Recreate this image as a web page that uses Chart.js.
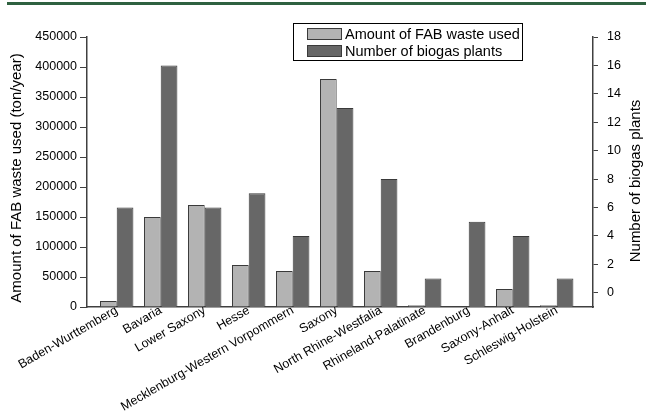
<!DOCTYPE html>
<html>
<head>
<meta charset="utf-8">
<script src="https://cdn.jsdelivr.net/npm/chart.js@4.4.1/dist/chart.umd.min.js"></script>
<style>
  html, body { margin: 0; padding: 0; background: #ffffff; }
  #wrap { position: relative; width: 646px; height: 415px; }
  #rule { position: absolute; left: 7px; right: 0; top: 2px; height: 3px; background: #2f6140; }
  canvas { position: absolute; left: 0; top: 0; }
</style>
</head>
<body>
<div id="wrap">
  <canvas id="chart" width="646" height="415"></canvas>
  <div id="rule"></div>
</div>
<script>
// German federal states
const states = [
  'Baden-Wurttemberg', 'Bavaria', 'Lower Saxony', 'Hesse',
  'Mecklenburg-Western Vorpommern', 'Saxony', 'North Rhine-Westfalia',
  'Rhineland-Palatinate', 'Brandenburg', 'Saxony-Anhalt', 'Schleswig-Holstein'
];
// FAB waste used, ton/year
const fabWaste = [10000, 150000, 170000, 70000, 60000, 380000, 60000, 3000, 500, 30000, 3000];
// Number of biogas plants
const biogasPlants = [6, 16, 6, 7, 4, 13, 8, 1, 5, 4, 1];
// Axis tick values
const wasteTicks = [0, 50000, 100000, 150000, 200000, 250000, 300000, 350000, 400000, 450000];
const plantTicks = [0, 2, 4, 6, 8, 10, 12, 14, 16, 18];

const FONT = '"Liberation Sans", Arial, sans-serif';
const AXIS = '#404040';

// Legend box and rotated axis titles
const decorations = {
  id: 'decorations',
  afterDraw(chart) {
    const ctx = chart.ctx;
    ctx.save();
    ctx.fillStyle = '#000';
    ctx.font = '15px ' + FONT;
    ctx.textAlign = 'center';
    ctx.textBaseline = 'middle';
    ctx.translate(17, 178);
    ctx.rotate(-Math.PI / 2);
    ctx.fillText('Amount of FAB waste used (ton/year)', 0, 0);
    ctx.restore();

    ctx.save();
    ctx.fillStyle = '#000';
    ctx.font = '15px ' + FONT;
    ctx.textAlign = 'center';
    ctx.textBaseline = 'middle';
    ctx.translate(636, 181);
    ctx.rotate(-Math.PI / 2);
    ctx.fillText('Number of biogas plants', 0, 0);
    ctx.restore();

    // legend
    ctx.save();
    ctx.fillStyle = '#fff';
    ctx.fillRect(293.5, 23.5, 229, 37);
    ctx.strokeStyle = '#000';
    ctx.lineWidth = 1;
    ctx.strokeRect(293.5, 23.5, 229, 37);
    chart.data.datasets.forEach((ds, i) => {
      const y = 28 + i * 17;
      ctx.fillStyle = ds.backgroundColor;
      ctx.fillRect(307, y, 35, 12);
      ctx.strokeStyle = '#3a3a3a';
      ctx.strokeRect(307.5, y + 0.5, 34, 11);
      ctx.fillStyle = '#000';
      ctx.font = '14.5px ' + FONT;
      ctx.textAlign = 'left';
      ctx.textBaseline = 'middle';
      ctx.fillText(ds.label, 345, y + 6.5);
    });
    ctx.restore();
  }
};

new Chart(document.getElementById('chart'), {
  type: 'bar',
  data: {
    datasets: [
      {
        label: 'Amount of FAB waste used',
        data: fabWaste.map((v, i) => ({ x: i, y: v })),
        yAxisID: 'y',
        backgroundColor: '#b3b3b3',
        borderColor: '#3a3a3a',
        borderWidth: 1,
        borderSkipped: 'bottom'
      },
      {
        label: 'Number of biogas plants',
        data: biogasPlants.map((v, i) => ({ x: i, y: v })),
        yAxisID: 'y2',
        base: -1,
        backgroundColor: '#676767',
        borderColor: '#3a3a3a',
        borderWidth: 1,
        borderSkipped: 'bottom'
      }
    ]
  },
  options: {
    responsive: false,
    animation: false,
    categoryPercentage: 0.76,
    barPercentage: 1,
    layout: { padding: { top: 37, left: 0, right: 0, bottom: 0 } },
    plugins: { legend: { display: false }, tooltip: { enabled: false } },
    scales: {
      x: {
        type: 'linear',
        position: 'bottom',
        min: -0.675,
        max: 10.825,
        offset: false,
        afterBuildTicks(scale) { scale.ticks = states.map((_, i) => ({ value: i })); },
        afterFit(scale) { scale.height = 108; },
        grid: { display: false, drawTicks: false },
        border: { display: true, color: AXIS, width: 1.5 },
        ticks: {
          autoSkip: false,
          minRotation: 30,
          maxRotation: 30,
          padding: -4,
          color: '#000',
          font: { family: FONT, size: 12.5 },
          callback: (v) => states[v]
        }
      },
      y: {
        position: 'left',
        min: 0,
        max: 450000,
        afterBuildTicks(scale) { scale.ticks = wasteTicks.map(v => ({ value: v })); },
        afterFit(scale) { scale.width = 87; },
        grid: { drawOnChartArea: false, drawTicks: true, tickLength: 7, color: AXIS, lineWidth: 1 },
        border: { display: true, color: AXIS, width: 1.5 },
        ticks: { padding: 3, color: '#000', font: { family: FONT, size: 12.5 }, callback: (v) => String(v) }
      },
      y2: {
        position: 'right',
        min: -1,
        max: 18,
        afterBuildTicks(scale) { scale.ticks = plantTicks.map(v => ({ value: v })); },
        afterFit(scale) { scale.width = 53; },
        grid: { drawOnChartArea: false, drawTicks: true, tickLength: 5, color: AXIS, lineWidth: 1 },
        border: { display: true, color: AXIS, width: 1.5 },
        ticks: { padding: 9, color: '#000', font: { family: FONT, size: 12.5 }, callback: (v) => String(v) }
      }
    }
  },
  plugins: [decorations]
});
</script>
</body>
</html>
